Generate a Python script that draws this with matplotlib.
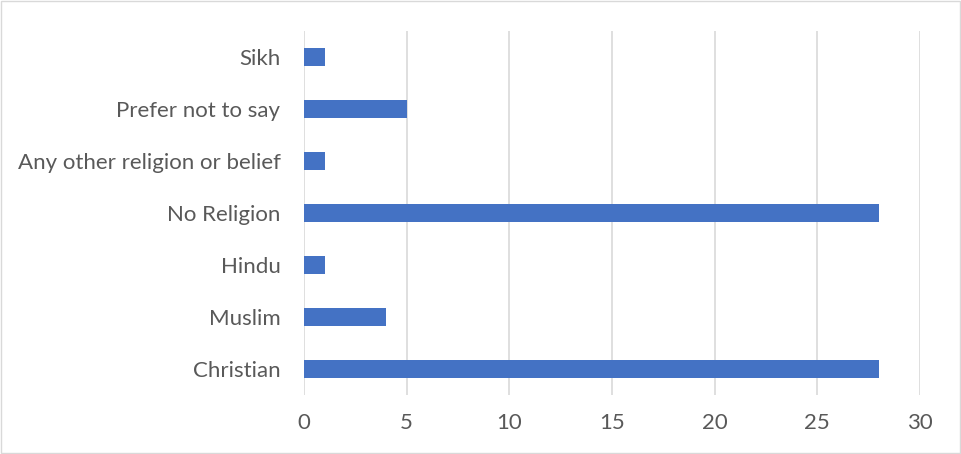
import matplotlib.pyplot as plt
from matplotlib.patches import Rectangle

# data
categories = ['Christian', 'Muslim', 'Hindu', 'No Religion',
              'Any other religion or belief', 'Prefer not to say', 'Sikh']
counts = [28, 4, 1, 28, 1, 5, 1]
xticks = [0, 5, 10, 15, 20, 25, 30]

plt.rcParams['font.family'] = ['Lato', 'DejaVu Sans']

fig = plt.figure(figsize=(9.62, 4.54), dpi=100)
ax = fig.add_axes([304 / 962, 1 - 395 / 454, 616 / 962, 364 / 454])

ax.barh(range(len(categories)), counts, height=0.365, color='#4472C4', zorder=3)

ax.set_xlim(0, 30)
ax.set_ylim(-0.5, len(categories) - 0.5)
ax.set_xticks(xticks)
ax.set_yticks(range(len(categories)))
ax.set_yticklabels(categories)

ax.grid(axis='x', color='#D9D9D9', linewidth=1.2, zorder=0)
for s in ax.spines.values():
    s.set_visible(False)
ax.tick_params(length=0, colors='#595959', labelsize=16)
ax.tick_params(axis='x', pad=13)
ax.tick_params(axis='y', pad=17)

# chart border
fig.patches.append(Rectangle((0.001, 0.002), 0.997, 0.995, transform=fig.transFigure,
                             fill=False, edgecolor='#D9D9D9', linewidth=1))

fig.savefig('out.png', dpi=100)
